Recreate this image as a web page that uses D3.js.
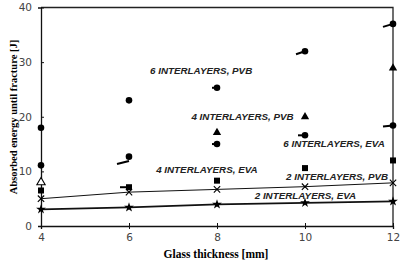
<!DOCTYPE html>
<html>
<head>
<meta charset="utf-8">
<script src="https://cdn.jsdelivr.net/npm/d3@7"></script>
<style>
  body { margin: 0; background: #fff; }
  svg { display: block; }
</style>
</head>
<body>
<svg></svg>
<script>
// chart values
const thickness = [4, 6, 8, 10, 12];
const pvb6 = [18.0, 23.0, 25.3, 32.0, 37.0];
const eva6 = [11.1, 12.7, 15.0, 16.6, 18.4];
const pvb4 = [8.0, 11.9, 17.1, 20.0, 28.9];
const eva4 = [6.5, 7.1, 8.3, 10.6, 12.0];
const pvb2 = [5.0, 6.2, 6.7, 7.2, 7.9];
const eva2 = [3.05, 3.4, 3.95, 4.25, 4.5];
const xTicks = [4, 6, 8, 10, 12];
const yTicks = [0, 10, 20, 30, 40];

const labels = [
  { text: "6 INTERLAYERS, PVB", x: 7.64, y: 28.5 },
  { text: "4 INTERLAYERS, PVB", x: 8.58, y: 20.1 },
  { text: "6 INTERLAYERS, EVA", x: 10.66, y: 15.0 },
  { text: "4 INTERLAYERS, EVA", x: 7.77, y: 10.4 },
  { text: "2 INTERLAYERS, PVB", x: 10.73, y: 9.13 },
  { text: "2 INTERLAYERS, EVA", x: 10.01, y: 5.66 }
];

const width = 407, height = 262;
const margin = { top: 7.5, right: 14, bottom: 36, left: 41 };

const svg = d3.select("svg")
              .attr("width", width)
              .attr("height", height);

const x = d3.scaleLinear().domain([4, 12]).range([margin.left, width - margin.right]);
const y = d3.scaleLinear().domain([0, 40]).range([height - margin.bottom, margin.top]);

// frame (top + right)
svg.append("path")
   .attr("d", `M${x(4)},${y(40)}H${x(12)}V${y(0)}`)
   .attr("fill", "none")
   .attr("stroke", "#222")
   .attr("stroke-width", 1.3);

// axes with ticks crossing the line
const yAxis = svg.append("g")
   .attr("transform", `translate(${x(4)},0)`)
   .call(d3.axisLeft(y).tickValues(yTicks).tickSize(3).tickPadding(6));
yAxis.selectAll(".tick line").attr("x2", 3);

const xAxis = svg.append("g")
   .attr("transform", `translate(0,${y(0)})`)
   .call(d3.axisBottom(x).tickValues(xTicks).tickSize(3).tickPadding(5));
xAxis.selectAll(".tick line").attr("y1", -3);

[yAxis, xAxis].forEach(g => {
  g.select(".domain").attr("stroke", "#111").attr("stroke-width", 1.3);
  g.selectAll(".tick line").attr("stroke", "#111");
  g.selectAll("text")
   .attr("font-family", "DejaVu Sans, sans-serif")
   .attr("font-size", 10.5)
   .attr("fill", "#444");
});

// axis titles
svg.append("text")
   .attr("x", 216).attr("y", 258)
   .attr("text-anchor", "middle")
   .attr("font-family", "Liberation Serif, serif")
   .attr("font-weight", "bold")
   .attr("font-size", 11.5)
   .text("Glass thickness [mm]");

svg.append("text")
   .attr("transform", "translate(17,117) rotate(-90)")
   .attr("text-anchor", "middle")
   .attr("font-family", "Liberation Serif, serif")
   .attr("font-weight", "bold")
   .attr("font-size", 10.5)
   .text("Absorbed energy until fracture [J]");

// connecting lines for the 2-interlayer series
const line = d3.line().x((d, i) => x(thickness[i])).y(d => y(d));
svg.append("path").datum(pvb2).attr("d", line)
   .attr("fill", "none").attr("stroke", "#111").attr("stroke-width", 1);
svg.append("path").datum(eva2).attr("d", line)
   .attr("fill", "none").attr("stroke", "#111").attr("stroke-width", 1.8);

const pts = arr => arr.map((v, i) => ({ x: thickness[i], y: v }));

// small tails drawn next to some markers
const tails = [
  { x: 6, y: 11.9, len: 12, dy: 3 },
  { x: 6, y: 7.1, len: 9, dy: 0 },
  { x: 8, y: 25.3, len: 5, dy: 0 },
  { x: 8, y: 15.0, len: 5, dy: 0 },
  { x: 10, y: 32.0, len: 9, dy: 3 },
  { x: 10, y: 16.6, len: 7, dy: 0 },
  { x: 12, y: 37.0, len: 10, dy: 3 },
  { x: 12, y: 18.4, len: 10, dy: 1 }
];
svg.selectAll(".tail")
   .data(tails)
   .enter()
   .append("line")
   .attr("x1", d => x(d.x) - d.len)
   .attr("y1", d => y(d.y) + d.dy)
   .attr("x2", d => x(d.x))
   .attr("y2", d => y(d.y))
   .attr("stroke", "#000")
   .attr("stroke-width", 2);

// circles (6 interlayers)
svg.selectAll(".circ")
   .data(pts(pvb6).concat(pts(eva6)))
   .enter()
   .append("circle")
   .attr("cx", d => x(d.x))
   .attr("cy", d => y(d.y))
   .attr("r", 3.3)
   .attr("fill", "#000");

// triangles (4 interlayers, PVB) - the 6 mm point shows only as a dash
const tri = d3.symbol().type(d3.symbolTriangle).size(30);
svg.selectAll(".tri")
   .data(pts(pvb4).filter(d => d.x !== 6))
   .enter()
   .append("path")
   .attr("d", tri)
   .attr("transform", d => `translate(${x(d.x)},${y(d.y)})`)
   .attr("fill", d => d.x === 4 ? "#fff" : "#000")
   .attr("stroke", "#000")
   .attr("stroke-width", d => d.x === 4 ? 1.1 : 0);

// squares (4 interlayers, EVA)
svg.selectAll(".sq")
   .data(pts(eva4))
   .enter()
   .append("rect")
   .attr("x", d => x(d.x) - 3)
   .attr("y", d => y(d.y) - 3)
   .attr("width", 6)
   .attr("height", 6)
   .attr("fill", "#000");

// crosses (2 interlayers, PVB)
const cross = d3.symbol().type(d3.symbolX).size(28);
svg.selectAll(".cross")
   .data(pts(pvb2))
   .enter()
   .append("path")
   .attr("d", cross)
   .attr("transform", d => `translate(${x(d.x)},${y(d.y)})`)
   .attr("fill", "none")
   .attr("stroke", "#000")
   .attr("stroke-width", 1.1);

// stars (2 interlayers, EVA)
const star = d3.symbol().type(d3.symbolStar).size(30);
svg.selectAll(".star")
   .data(pts(eva2))
   .enter()
   .append("path")
   .attr("d", star)
   .attr("transform", d => `translate(${x(d.x)},${y(d.y)})`)
   .attr("fill", "#000");

// series labels
svg.selectAll(".lbl")
   .data(labels)
   .enter()
   .append("text")
   .attr("x", d => x(d.x))
   .attr("y", d => y(d.y))
   .attr("dy", "0.35em")
   .attr("text-anchor", "middle")
   .attr("font-family", "Liberation Sans, Arial, sans-serif")
   .attr("font-weight", "bold")
   .attr("font-style", "italic")
   .attr("font-size", 9.8)
   .attr("fill", "#222")
   .text(d => d.text);
</script>
</body>
</html>
